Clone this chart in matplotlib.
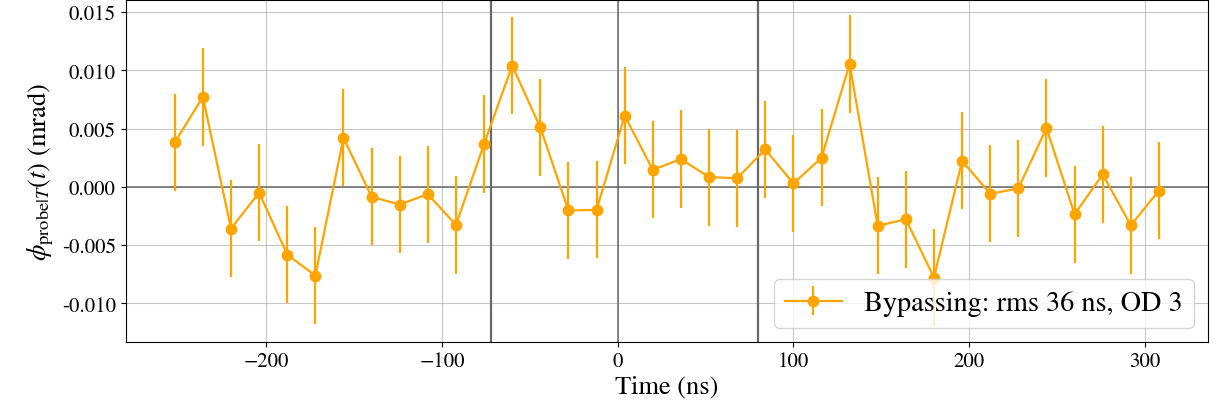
import numpy as np
import matplotlib
matplotlib.use('Agg')
import matplotlib.pyplot as plt

# time bins (ns) and measured probe phase (rad * 1e-3 -> shown as mrad axis)
time_ns = [-252, -236, -220, -204, -188, -172, -156, -140, -124, -108, -92, -76,
           -60, -44, -28, -12, 4, 20, 36, 52, 68, 84, 100, 116,
           132, 148, 164, 180, 196, 212, 228, 244, 260, 276, 292, 308]
phase = [0.00381, 0.00771, -0.00358, -0.00049, -0.00582, -0.00762, 0.00421, -0.00086,
         -0.00152, -0.00063, -0.00327, 0.00367, 0.01040, 0.00510, -0.00203, -0.00198,
         0.00610, 0.00146, 0.00238, 0.00083, 0.00074, 0.00321, 0.00029, 0.00249,
         0.01054, -0.00335, -0.00278, -0.00779, 0.00223, -0.00060, -0.00014, 0.00504,
         -0.00235, 0.00106, -0.00330, -0.00032]
phase_err = 0.00417

# pulse window edges: center 4 ns, +- 2 rms
window = [-72, 80]
label = 'Bypassing: rms 36 ns, OD 3'

plt.rcParams['font.family'] = ['STIXGeneral', 'Liberation Serif', 'DejaVu Serif']
plt.rcParams['mathtext.fontset'] = 'stix'

fig, ax = plt.subplots(figsize=(12.13, 4.10), dpi=100)
fig.subplots_adjust(left=0.1035, right=0.996, bottom=0.164, top=0.998)

ax.errorbar(time_ns, phase, yerr=phase_err, color='orange', marker='o',
            markersize=7.5, lw=1.6, elinewidth=1.6, label=label, zorder=3)

ax.axhline(0, color='dimgray', lw=1.1, zorder=2)
ax.axvline(0, color='dimgray', lw=1.1, zorder=2)
for t in window:
	ax.axvline(t, color='dimgray', lw=1.6, zorder=2)

ax.grid(True, alpha=0.7)
ax.set_xticks([-200, -100, 0, 100, 200, 300])
ax.set_yticks([-0.010, -0.005, 0.0, 0.005, 0.010, 0.015])
ax.yaxis.set_major_formatter(matplotlib.ticker.FormatStrFormatter('%.3f'))
ax.tick_params(labelsize=15)

ax.set_xlabel('Time (ns)', fontsize=19, labelpad=2)
ax.set_ylabel(r'$\phi_{\mathrm{probe}|T}(t)$ (mrad)', fontsize=19)
ax.legend(loc='lower right', fontsize=20.3)

fig.savefig('out.png', dpi=100)
